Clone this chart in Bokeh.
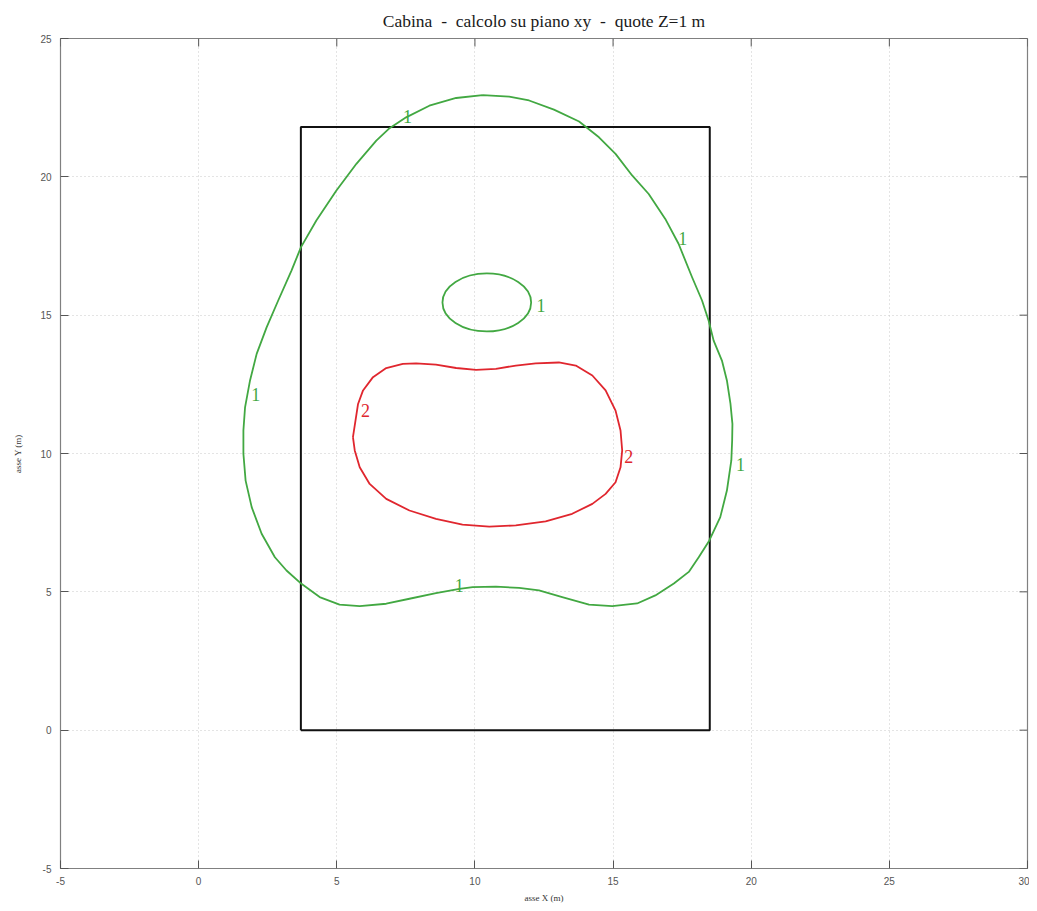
from bokeh.plotting import figure
from bokeh.models import Range1d, FixedTicker
from bokeh.core.properties import value
from bokeh.embed import file_html
from bokeh.resources import INLINE

TITLE = "Cabina \u00a0-\u00a0 calcolo su piano xy \u00a0-\u00a0 quote Z=1 m"

# building outline (black rectangle)
rect_x = [3.7, 18.5, 18.5, 3.7, 3.7]
rect_y = [0.0, 0.0, 21.8, 21.8, 0.0]

# contour level 1 (outer, green)
c1_x = [10.28, 11.24, 11.96, 12.86, 13.77, 14.49, 15.09, 15.69, 16.29, 16.89, 17.37,
        17.86, 18.22, 18.46, 18.64, 18.94, 19.12, 19.25, 19.32, 19.31, 19.28, 19.12,
        18.88, 18.48, 18.1, 17.74, 17.2, 16.53, 15.87, 14.97, 14.13, 13.16, 12.32,
        11.6, 10.76, 9.92, 9.44, 8.59, 7.63, 6.79, 5.83, 5.1, 4.38, 3.72, 3.18, 2.76,
        2.28, 1.92, 1.70, 1.62, 1.62, 1.68, 1.86, 2.1, 2.46, 2.88, 3.36, 3.7, 4.26,
        4.98, 5.71, 6.43, 6.91, 7.51, 8.35, 9.32, 10.28]
c1_y = [22.95, 22.9, 22.76, 22.43, 22.0, 21.43, 20.83, 20.05, 19.38, 18.48, 17.58,
        16.37, 15.53, 14.8, 14.08, 13.36, 12.64, 11.79, 11.07, 10.47, 9.75, 8.66,
        7.7, 6.85, 6.25, 5.72, 5.3, 4.87, 4.58, 4.48, 4.54, 4.81, 5.05,
        5.14, 5.19, 5.17, 5.11, 4.95, 4.75, 4.57, 4.48, 4.54, 4.81, 5.29, 5.77, 6.25,
        7.1, 8.06, 9.02, 9.99, 10.83, 11.67, 12.64, 13.6, 14.56, 15.53, 16.61, 17.45, 18.42,
        19.5, 20.47, 21.31, 21.76, 22.15, 22.57, 22.85, 22.95]

# contour level 1 (small inner island, green)
c1b_cx = [10.43]
c1b_cy = [15.46]
c1b_w = [3.21]
c1b_h = [2.1]

# contour level 2 (red)
c2_x = [5.585, 5.77, 5.95, 6.31, 6.79, 7.39, 7.87, 8.59, 9.32, 10.04, 10.76, 11.48,
        12.2, 13.04, 13.65, 14.25, 14.73, 15.09, 15.27, 15.33, 15.27, 15.09, 14.73,
        14.25, 13.52, 12.56, 11.48, 10.52, 9.55, 8.59, 7.63, 6.79, 6.19, 5.83, 5.65,
        5.585]
c2_y = [10.59, 11.79, 12.28, 12.76, 13.09, 13.24, 13.26, 13.21, 13.09, 13.02, 13.06,
        13.18, 13.26, 13.29, 13.18, 12.82, 12.28, 11.55, 10.83, 10.11, 9.5, 8.96, 8.54,
        8.18, 7.82, 7.55, 7.4, 7.36, 7.43, 7.64, 7.94, 8.36, 8.9, 9.5, 10.11,
        10.59]

# contour labels
lab1_x = [7.56, 17.52, 12.39, 2.07, 19.61, 9.43]
lab1_y = [22.18, 17.77, 15.35, 12.13, 9.6, 5.23]
lab1_t = ["1", "1", "1", "1", "1", "1"]
lab2_x = [6.04, 15.57]
lab2_y = [11.55, 9.89]
lab2_t = ["2", "2"]

x_ticks = [-5, 0, 5, 10, 15, 20, 25, 30]
y_ticks = [-5, 0, 5, 10, 15, 20, 25]
X0, X1, Y0, Y1 = -5, 30, -5, 25

GREEN = "#42a842"
RED = "#e0262e"
TICK = "#555555"

p = figure(width=1029, height=906, output_backend="svg", toolbar_location=None,
           x_range=Range1d(X0, X1), y_range=Range1d(Y0, Y1),
           min_border_left=60, min_border_right=2, min_border_top=38, min_border_bottom=38)

p.title.text = TITLE
p.title.align = "center"
p.title.offset = 8
p.title.text_font = "Liberation Serif"
p.title.text_font_size = "17.5px"
p.title.text_font_style = "normal"
p.title.text_color = "#1a1a1a"
p.title.standoff = 16

p.outline_line_color = "#808080"
p.outline_line_width = 1.2

for ax in (p.xaxis[0], p.yaxis[0]):
    ax.major_tick_in = 8
    ax.major_tick_out = 0
    ax.minor_tick_line_color = None
    ax.axis_line_color = None
    ax.major_tick_line_color = TICK
    ax.major_label_text_font = "Liberation Sans"
    ax.major_label_text_font_size = "10px"
    ax.major_label_text_color = "#555555"
    ax.axis_label_text_font = "Liberation Serif"
    ax.axis_label_text_font_size = "9px"
    ax.axis_label_text_font_style = "normal"
    ax.axis_label_text_color = "#333333"

p.xaxis[0].ticker = FixedTicker(ticks=x_ticks)
p.yaxis[0].ticker = FixedTicker(ticks=y_ticks)
p.xaxis[0].major_label_overrides = {-5: "-5"}
p.yaxis[0].major_label_overrides = {-5: "-5"}
p.xaxis[0].axis_label = "asse X (m)"
p.yaxis[0].axis_label = "asse Y (m)"
p.xaxis[0].major_label_standoff = 8
p.yaxis[0].major_label_standoff = 9
p.xaxis[0].axis_label_standoff = 5
p.yaxis[0].axis_label_standoff = 14

p.xgrid[0].ticker = FixedTicker(ticks=x_ticks)
p.ygrid[0].ticker = FixedTicker(ticks=y_ticks)
p.grid.grid_line_color = "#c8c8c8"
p.grid.grid_line_dash = "1 3"

# mirrored inward ticks on top and right edges (8px long)
tick_len_y = 8 * (Y1 - Y0) / 830.0
tick_len_x = 8 * (X1 - X0) / 967.0
p.segment(x0=x_ticks, y0=[Y1] * len(x_ticks), x1=x_ticks, y1=[Y1 - tick_len_y] * len(x_ticks),
          line_color=TICK, line_width=1)
p.segment(x0=[X1] * len(y_ticks), y0=y_ticks, x1=[X1 - tick_len_x] * len(y_ticks), y1=y_ticks,
          line_color=TICK, line_width=1)

p.line(rect_x, rect_y, line_color="#111111", line_width=2)
p.line(c1_x, c1_y, line_color=GREEN, line_width=1.8, line_join="round")
p.ellipse(x=c1b_cx, y=c1b_cy, width=c1b_w, height=c1b_h, fill_color=None,
          line_color=GREEN, line_width=1.8)
p.line(c2_x, c2_y, line_color=RED, line_width=1.8, line_join="round")

p.text(x=lab1_x, y=lab1_y, text=lab1_t, text_font=value("Liberation Serif"),
       text_font_size="18px", text_color=GREEN, text_align="center", text_baseline="middle")
p.text(x=lab2_x, y=lab2_y, text=lab2_t, text_font=value("Liberation Serif"),
       text_font_size="18px", text_color=RED, text_align="center", text_baseline="middle")

open("out.html", "w").write(file_html(p, INLINE))
